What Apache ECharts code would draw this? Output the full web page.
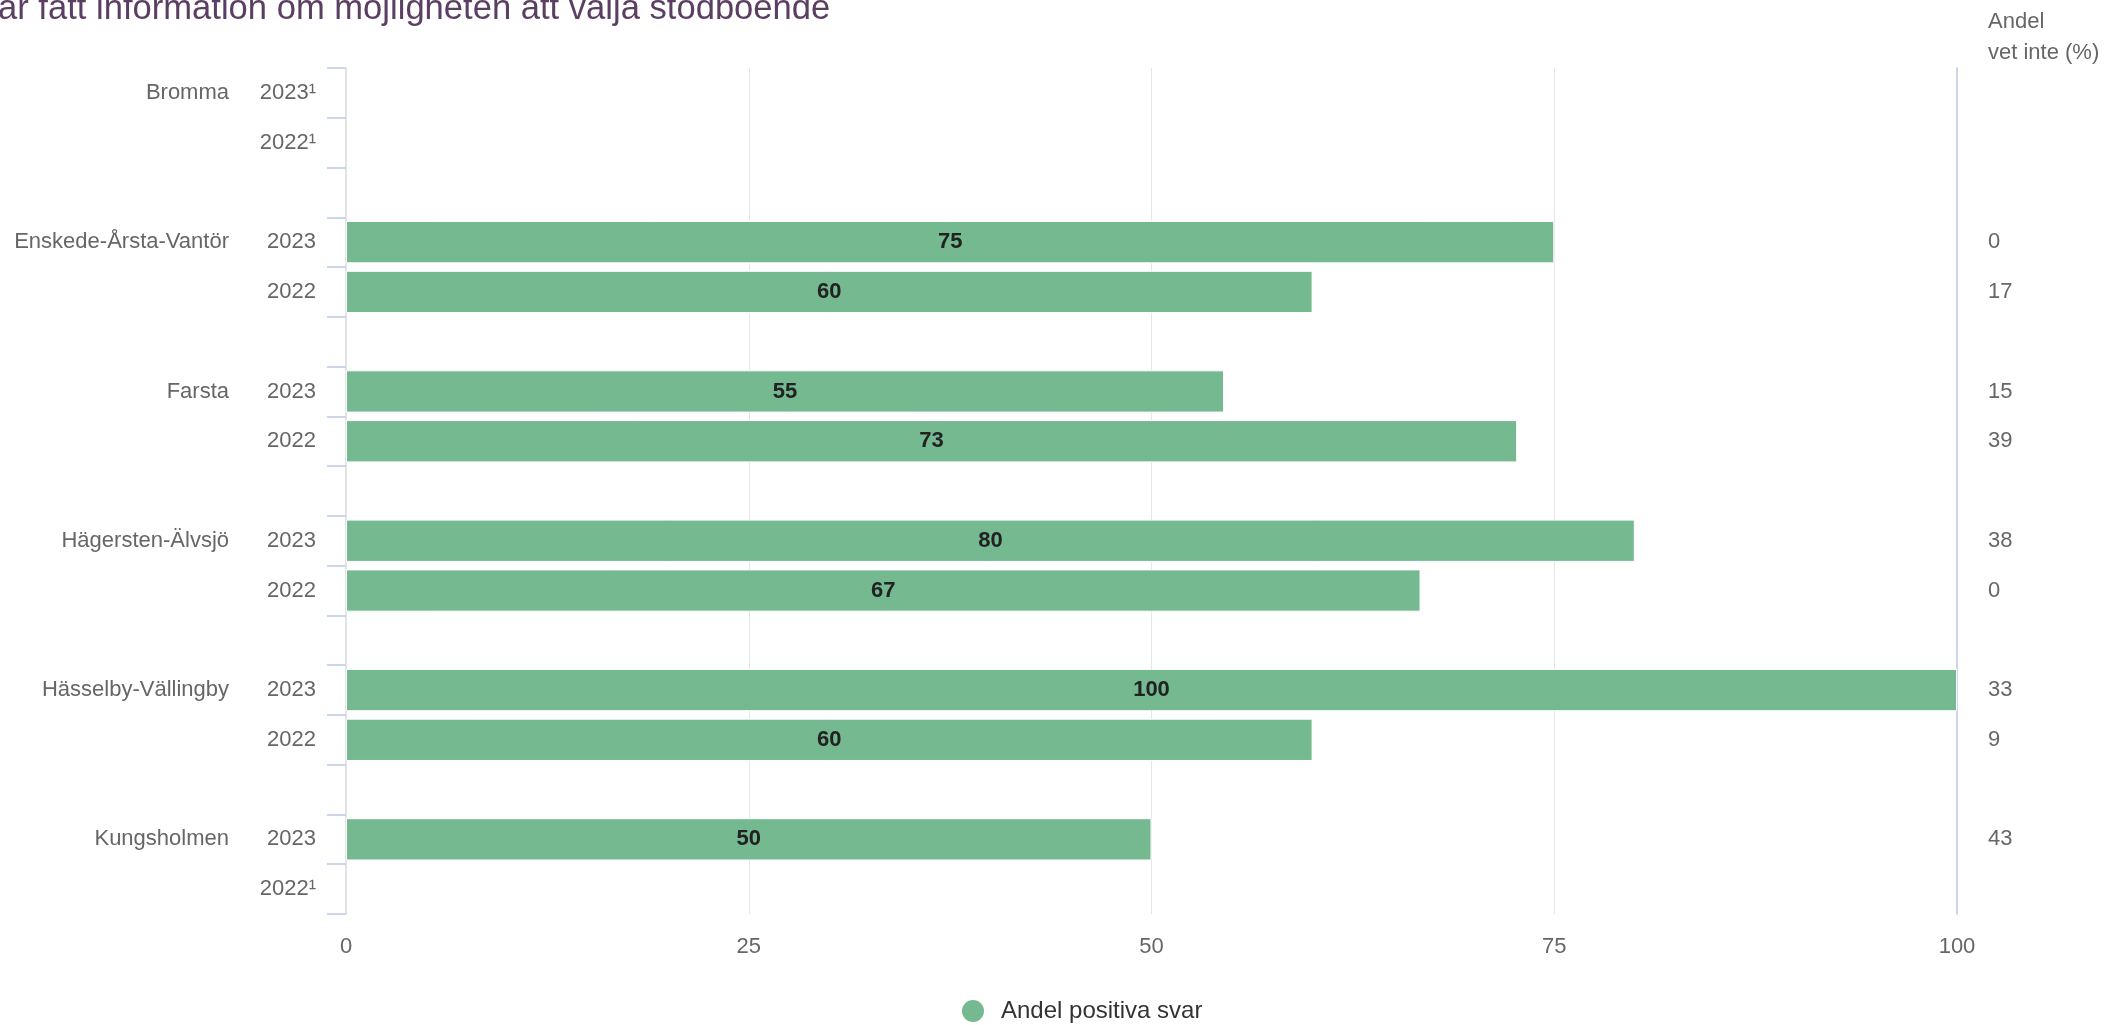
<!DOCTYPE html>
<html>
<head>
<meta charset="utf-8">
<script src="https://cdn.jsdelivr.net/npm/echarts@6/dist/echarts.min.js"></script>
<style>
html,body{margin:0;padding:0;background:#fff;}
#chart{width:2126px;height:1025px;}
</style>
</head>
<body>
<div id="chart"></div>
<script>
const districts = ['Bromma', 'Enskede-Årsta-Vantör', 'Farsta', 'Hägersten-Älvsjö', 'Hässelby-Vällingby', 'Kungsholmen'];
const years2023 = ['2023¹', '2023', '2023', '2023', '2023', '2023'];
const years2022 = ['2022¹', '2022', '2022', '2022', '2022', '2022¹'];
const positive2023 = [null, 75, 54.5, 80, 100, 50];
const positive2022 = [null, 60, 72.7, 66.7, 60, null];
const vetInte2023 = [null, 0, 15, 38, 33, 43];
const vetInte2022 = [null, 17, 39, 0, 9, null];
const xTicks = [0, 25, 50, 75, 100];
const seriesName = 'Andel positiva svar';
const titleText = 'ar fått information om möjligheten att välja stödboende';
const rightHeader = 'Andel\nvet inte (%)';

// Build flat category rows
const catKeys = [], districtLabels = [], yearLabels = [], posValues = [], vetValues = [];
districts.forEach((d, i) => {
  catKeys.push('r' + catKeys.length); districtLabels.push(d); yearLabels.push(years2023[i]);
  posValues.push(positive2023[i]); vetValues.push(vetInte2023[i]);
  catKeys.push('r' + catKeys.length); districtLabels.push(''); yearLabels.push(years2022[i]);
  posValues.push(positive2022[i]); vetValues.push(vetInte2022[i]);
  if (i < districts.length - 1) {
    catKeys.push('r' + catKeys.length); districtLabels.push(''); yearLabels.push('');
    posValues.push(null); vetValues.push(null);
  }
});

const FONT = '"Liberation Sans", Arial, sans-serif';
const chart = echarts.init(document.getElementById('chart'));
chart.setOption({
  animation: false,
  textStyle: { fontFamily: FONT },
  grid: { left: 346, right: 169, top: 68, bottom: 111 },
  graphic: [
    { type: 'text', left: -2, top: -8, style: { text: titleText, fill: '#5b3f63', font: '34.6px ' + FONT } },
    { type: 'text', left: 1988, top: 6, style: { text: rightHeader, fill: '#666666', font: '22px ' + FONT, lineHeight: 31 } }
  ],
  legend: {
    left: 955, top: 993,
    icon: 'circle', itemWidth: 24, itemHeight: 24,
    textStyle: { color: '#333333', fontSize: 24, padding: [0, 0, 0, 11], fontFamily: FONT },
    data: [seriesName]
  },
  xAxis: {
    type: 'value', min: xTicks[0], max: xTicks[xTicks.length - 1], interval: 25,
    axisLine: { show: false }, axisTick: { show: false },
    splitLine: { lineStyle: { color: '#e6e6e6', width: 1 } },
    axisLabel: { color: '#666666', fontSize: 22, margin: 22, fontFamily: FONT }
  },
  yAxis: [
    {
      type: 'category', inverse: true, data: catKeys,
      axisLine: { show: true, lineStyle: { color: '#e3e3e3', width: 2 } },
      axisTick: { show: true, length: 19, lineStyle: { color: '#ccd6eb', width: 2 } },
      axisLabel: {
        margin: 30, interval: 0,
        formatter: (v, idx) => {
          const d = districtLabels[idx], y = yearLabels[idx];
          if (!y) return '';
          return (d ? '{d|' + d + '}' : '') + '{y|' + y + '}';
        },
        rich: {
          d: { width: 200, align: 'right', color: '#666666', fontSize: 22, fontFamily: FONT },
          y: { width: 87, align: 'right', color: '#666666', fontSize: 22, fontFamily: FONT }
        }
      }
    },
    {
      type: 'category', inverse: true, position: 'right', data: catKeys,
      axisLine: { show: true, lineStyle: { color: '#ccd6eb', width: 2 } },
      axisTick: { show: false },
      axisLabel: {
        margin: 31, interval: 0, color: '#666666', fontSize: 22, fontFamily: FONT,
        formatter: (v, idx) => vetValues[idx] == null ? '' : String(vetValues[idx])
      }
    }
  ],
  series: [{
    name: seriesName, type: 'bar', yAxisIndex: 0,
    data: posValues,
    barCategoryGap: '15%',
    itemStyle: { color: '#75b990', borderColor: '#ffffff', borderWidth: 1 },
    label: {
      show: true, position: 'inside', color: '#222222', fontWeight: 'bold', fontSize: 22, fontFamily: FONT,
      formatter: p => p.value == null ? '' : String(Math.round(p.value))
    }
  }]
});
</script>
</body>
</html>
